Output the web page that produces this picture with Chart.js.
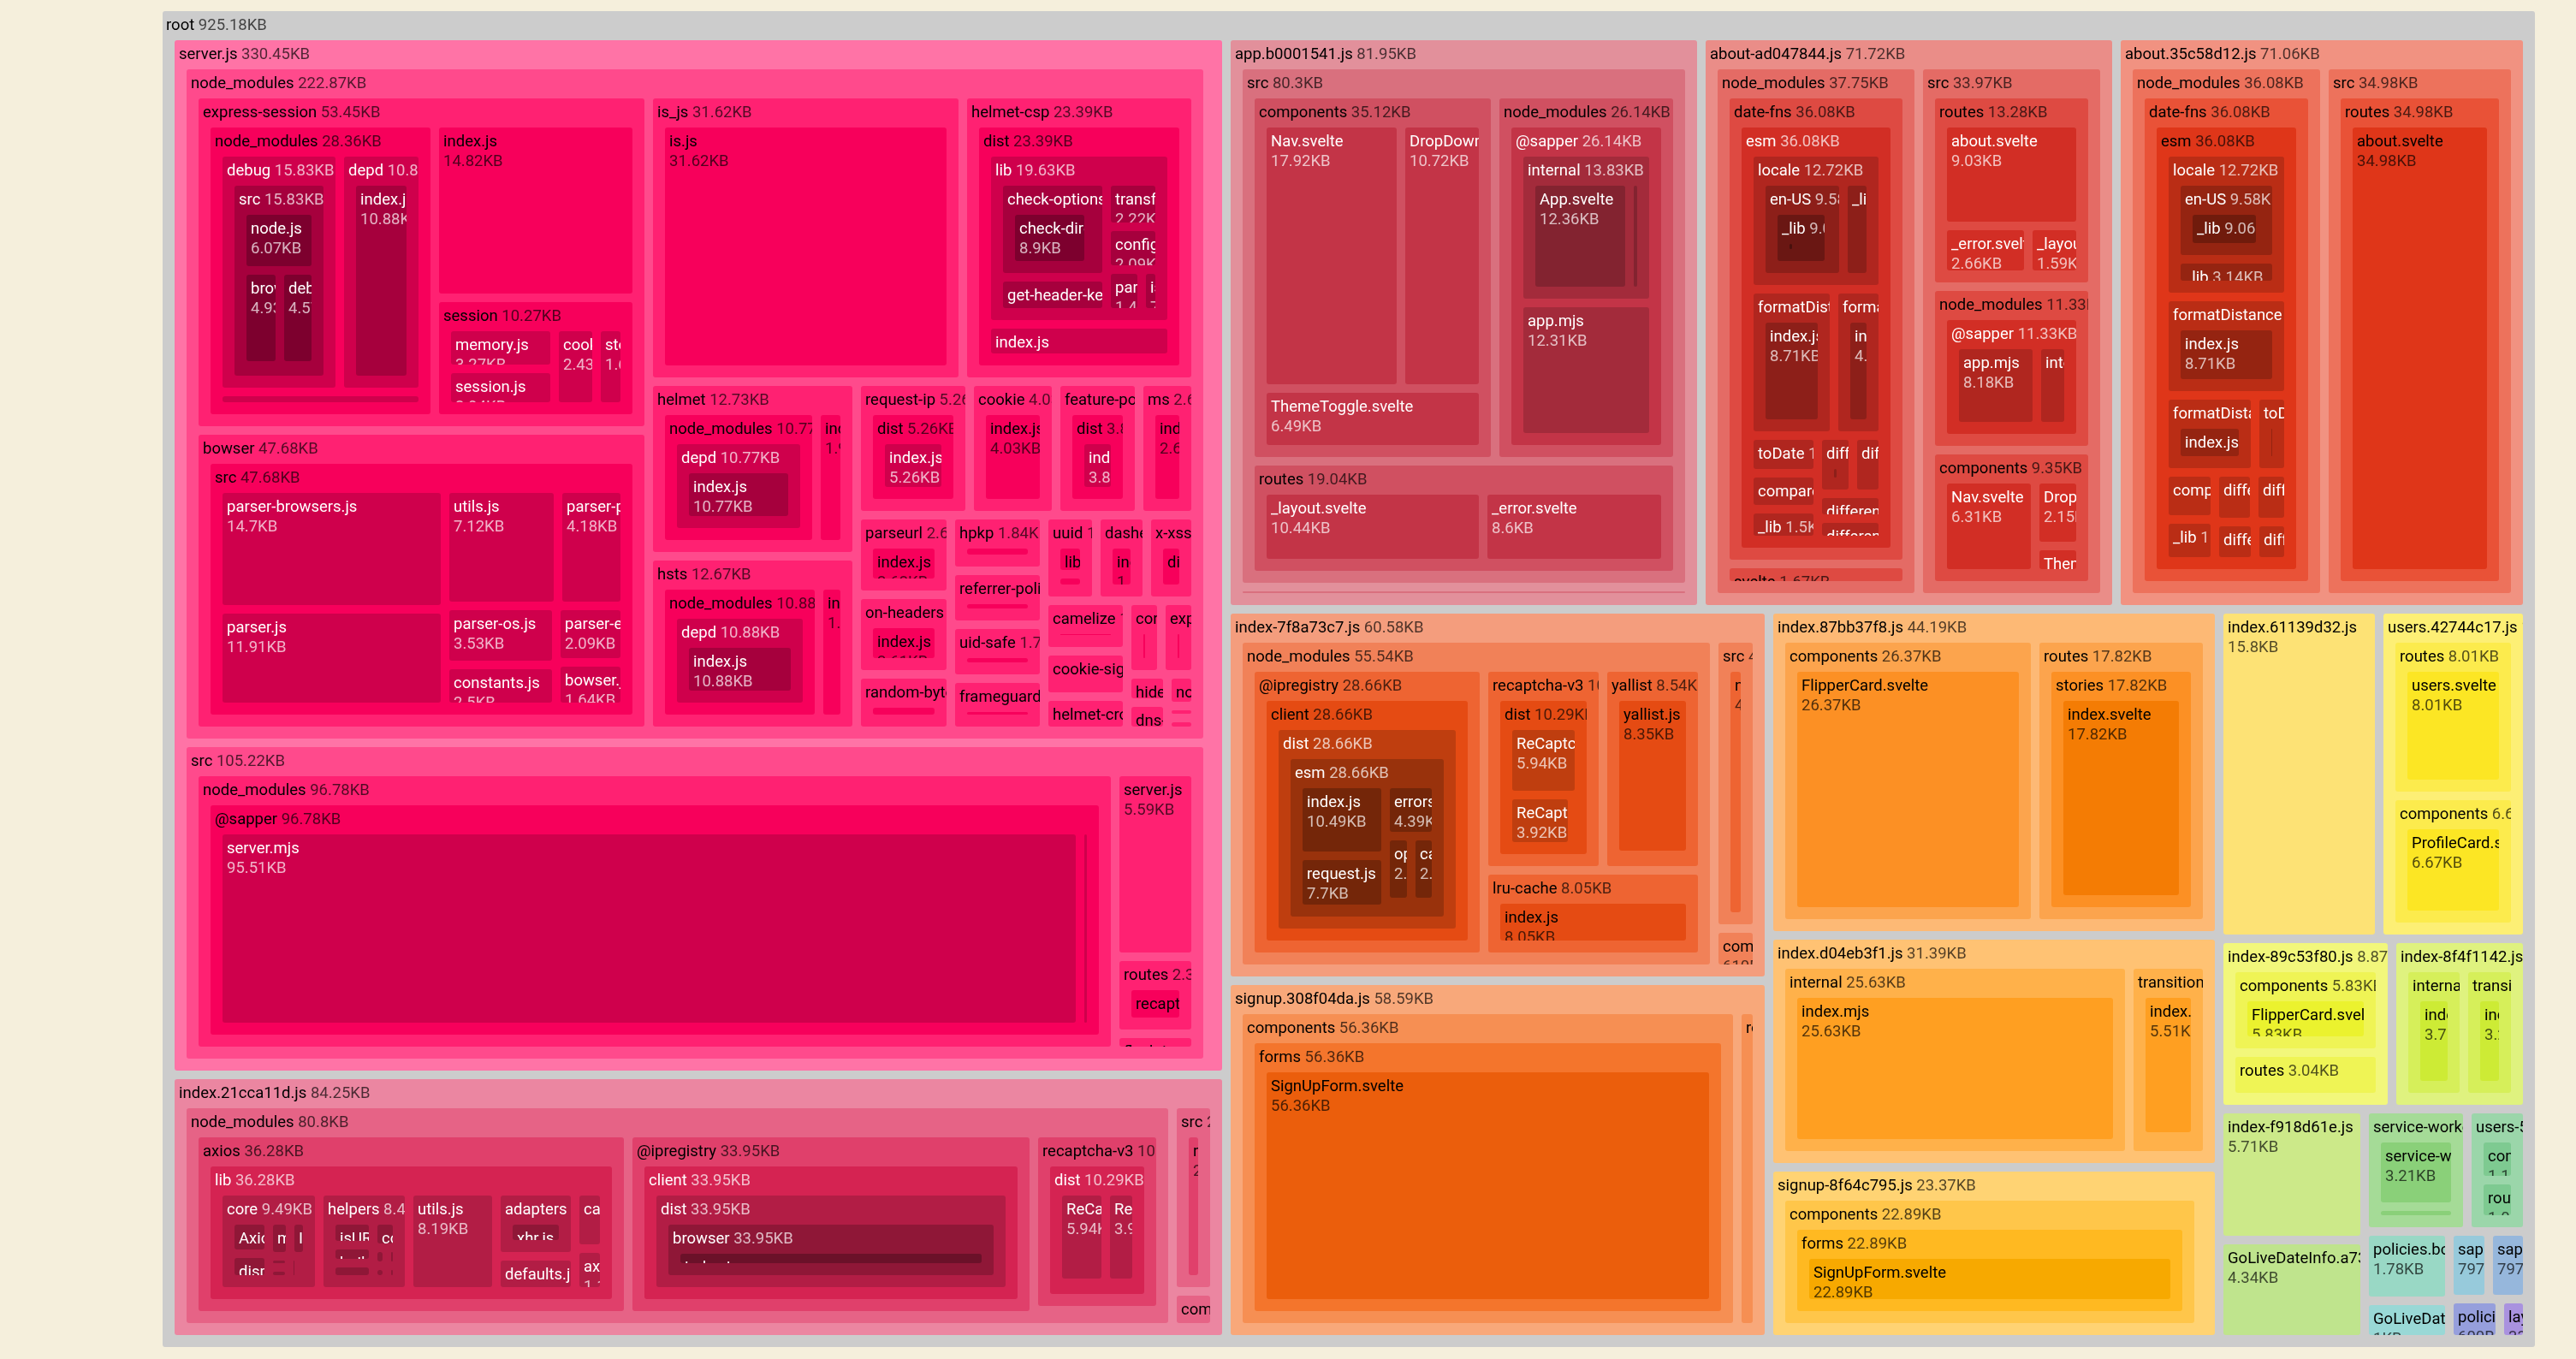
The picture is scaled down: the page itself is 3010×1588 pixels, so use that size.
<!DOCTYPE html>
<html>
<head>
<meta charset="utf-8">
<title>Bundle treemap</title>
<script src="https://cdn.jsdelivr.net/npm/chart.js@4.4.1/dist/chart.umd.min.js"></script>
<style>
  html, body { margin: 0; padding: 0; background: #f5efdc; }
  #wrap { position: absolute; left: 190px; top: 13px; width: 2772px; height: 1561px; }
</style>
</head>
<body>
<div id="wrap"><canvas id="treemap"></canvas></div>
<script>
// module sizes in KB, one list per bundle (paths are relative to the bundle)
const serverModules = [
  ['express-session/node_modules/debug/src/node.js', 6.07],
  ['express-session/node_modules/debug/src/browser.js', 4.93],
  ['express-session/node_modules/debug/src/debug.js', 4.57],
  ['express-session/node_modules/debug/src/index.js', 0.26],
  ['express-session/node_modules/depd/index.js', 10.88],
  ['express-session/node_modules/ms/index.js', 1.65],
  ['express-session/index.js', 14.82],
  ['express-session/session/memory.js', 3.27],
  ['express-session/session/session.js', 2.94],
  ['express-session/session/cookie.js', 2.43],
  ['express-session/session/store.js', 1.63],
  ['bowser/src/parser-browsers.js', 14.7],
  ['bowser/src/parser.js', 11.912],
  ['bowser/src/utils.js', 7.124],
  ['bowser/src/parser-platforms.js', 4.18],
  ['bowser/src/parser-os.js', 3.532],
  ['bowser/src/constants.js', 2.504],
  ['bowser/src/parser-engines.js', 2.09],
  ['bowser/src/bowser.js', 1.64],
  ['is_js/is.js', 31.62],
  ['helmet-csp/dist/lib/check-options/check-directive', 8.9],
  ['helmet-csp/dist/lib/check-options/index.js', 0.7],
  ['helmet-csp/dist/lib/get-header-keys-and-values.js', 3.6],
  ['helmet-csp/dist/lib/transform-directives-names.js', 2.22],
  ['helmet-csp/dist/lib/config.js', 2.09],
  ['helmet-csp/dist/lib/parse-directive.js', 1.4],
  ['helmet-csp/dist/lib/is-function.js', 0.72],
  ['helmet-csp/dist/index.js', 3.76],
  ['helmet/node_modules/depd/index.js', 10.77],
  ['helmet/index.js', 1.96],
  ['hsts/node_modules/depd/index.js', 10.88],
  ['hsts/index.js', 1.79],
  ['request-ip/dist/index.js', 5.26],
  ['cookie/index.js', 4.03],
  ['feature-policy/dist/index.js', 3.84],
  ['ms/index.js', 2.63],
  ['parseurl/index.js', 2.62],
  ['on-headers/index.js', 2.61],
  ['random-bytes/index.js', 1.85],
  ['hpkp/dist/index.js', 1.84],
  ['referrer-policy/dist/index.js', 1.77],
  ['uid-safe/index.js', 1.76],
  ['frameguard/dist/index.js', 1.7],
  ['uuid/lib', 1.06],
  ['uuid/v4.js', 0.5],
  ['dasherize/index.js', 1.52],
  ['x-xss-protection/dist/index.js', 1.47],
  ['camelize/index.js', 1.46],
  ['cookie-signature/index.js', 1.32],
  ['helmet-crossdomain/dist/index.js', 0.99],
  ['cors/index.js', 0.88],
  ['expect-ct/dist/index.js', 0.87],
  ['hide-powered-by/dist/index.js', 0.4],
  ['dns-prefetch-control/dist/index.js', 0.4],
  ['nocache/dist/index.js', 0.31],
  ['dont-sniff-mimetype/dist/index.js', 0.12],
  ['ienoopen/dist/index.js', 0.12]
];
const serverSrc = [
  ['node_modules/@sapper/server.mjs', 95.51],
  ['node_modules/@sapper/manifest-server.mjs', 1.27],
  ['server.js', 5.59],
  ['routes/recaptcha.js', 2.35],
  ['flash.js', 0.5]
];
const index21 = [
  ['node_modules/axios/lib/core/Axios.js', 2.7],
  ['node_modules/axios/lib/core/dispatchRequest.js', 2.0],
  ['node_modules/axios/lib/core/mergeConfig.js', 1.6],
  ['node_modules/axios/lib/core/InterceptorManager.js', 1.3],
  ['node_modules/axios/lib/core/buildFullPath.js', 0.5],
  ['node_modules/axios/lib/core/createError.js', 0.5],
  ['node_modules/axios/lib/core/enhanceError.js', 0.49],
  ['node_modules/axios/lib/core/settle.js', 0.4],
  ['node_modules/axios/lib/helpers/isURLSameOrigin.js', 2.3],
  ['node_modules/axios/lib/helpers/buildURL.js', 1.6],
  ['node_modules/axios/lib/helpers/parseHeaders.js', 1.5],
  ['node_modules/axios/lib/helpers/cookies.js', 1.4],
  ['node_modules/axios/lib/helpers/spread.js', 0.53],
  ['node_modules/axios/lib/helpers/combineURLs.js', 0.4],
  ['node_modules/axios/lib/helpers/isAbsoluteURL.js', 0.4],
  ['node_modules/axios/lib/helpers/bind.js', 0.3],
  ['node_modules/axios/lib/utils.js', 8.19],
  ['node_modules/axios/lib/adapters/xhr.js', 4.85],
  ['node_modules/axios/lib/defaults.js', 2.61],
  ['node_modules/axios/lib/cancel/CancelToken.js', 1.56],
  ['node_modules/axios/lib/axios.js', 1.15],
  ['node_modules/@ipregistry/client/dist/browser/index.js', 33.95],
  ['node_modules/recaptcha-v3/dist/ReCaptchaLoader.js', 5.94],
  ['node_modules/recaptcha-v3/dist/ReCaptchaInstance.js', 3.92],
  ['node_modules/recaptcha-v3/dist/index.js', 0.43],
  ['node_modules/tslib/tslib.es6.js', 0.28],
  ['src/recaptcha.js', 2.9],
  ['commonjsHelpers.js', 0.55]
];
const appB = [
  ['src/components/Nav.svelte', 17.918],
  ['src/components/DropDown.svelte', 10.716],
  ['src/components/ThemeToggle.svelte', 6.486],
  ['src/node_modules/@sapper/internal/App.svelte', 12.36],
  ['src/node_modules/@sapper/internal/layout.svelte', 1.47],
  ['src/node_modules/@sapper/app.mjs', 12.31],
  ['src/routes/_layout.svelte', 10.44],
  ['src/routes/_error.svelte', 8.6],
  ['manifest-client.mjs', 1.65]
];
const dateFns = [
  ['locale/en-US/_lib/match', 3.4],
  ['locale/en-US/_lib/localize', 2.9],
  ['locale/en-US/_lib/formatDistance', 1.5],
  ['locale/en-US/_lib/formatLong', 0.78],
  ['locale/en-US/_lib/formatRelative', 0.48],
  ['locale/en-US/index.js', 0.52],
  ['locale/_lib/buildMatchFn', 1.2],
  ['locale/_lib/buildLocalizeFn', 1.0],
  ['locale/_lib/buildMatchPatternFn', 0.5],
  ['locale/_lib/buildFormatLongFn', 0.44],
  ['formatDistance/index.js', 8.71],
  ['formatDistanceStrict/index.js', 4.95],
  ['toDate/index.js', 1.8],
  ['compareAsc/index.js', 1.7],
  ['_lib/requiredArgs', 0.6],
  ['_lib/toInteger', 0.45],
  ['_lib/getTimezoneOffsetInMilliseconds', 0.45],
  ['differenceInMonths/index.js', 1.4],
  ['differenceInSeconds/index.js', 1.2],
  ['differenceInMilliseconds/index.js', 1.15],
  ['differenceInCalendarMonths/index.js', 0.95]
];
const aboutAdSrc = [
  ['routes/about.svelte', 9.034],
  ['routes/_error.svelte', 2.66],
  ['routes/_layout.svelte', 1.59],
  ['node_modules/@sapper/app.mjs', 8.18],
  ['node_modules/@sapper/internal/App.svelte', 2.4],
  ['node_modules/@sapper/internal/layout.svelte', 0.75],
  ['components/Nav.svelte', 6.312],
  ['components/DropDown.svelte', 2.151],
  ['components/ThemeToggle.svelte', 0.89]
];
const index7f8 = [
  ['node_modules/@ipregistry/client/dist/esm/index.js', 10.49],
  ['node_modules/@ipregistry/client/dist/esm/request.js', 7.7],
  ['node_modules/@ipregistry/client/dist/esm/errors.js', 4.39],
  ['node_modules/@ipregistry/client/dist/esm/options.js', 2.82],
  ['node_modules/@ipregistry/client/dist/esm/cache.js', 2.72],
  ['node_modules/@ipregistry/client/dist/esm/util.js', 0.54],
  ['node_modules/recaptcha-v3/dist/ReCaptchaLoader.js', 5.94],
  ['node_modules/recaptcha-v3/dist/ReCaptchaInstance.js', 3.92],
  ['node_modules/recaptcha-v3/dist/index.js', 0.43],
  ['node_modules/yallist/yallist.js', 8.35],
  ['node_modules/yallist/iterator.js', 0.19],
  ['node_modules/lru-cache/index.js', 8.05],
  ['src/navigate.js', 4.43],
  ['commonjsHelpers.js', 0.61]
];
const signup308 = [['components/forms/SignUpForm.svelte', 56.36], ['routes/signup.svelte', 2.23]];
const index87 = [['components/FlipperCard.svelte', 26.37], ['routes/stories/index.svelte', 17.82]];
const indexD04 = [['internal/index.mjs', 25.63], ['transition/index.mjs', 5.51], ['transition/easing.mjs', 0.25]];
const signup8f = [['components/forms/SignUpForm.svelte', 22.89], ['routes/signup.svelte', 0.48]];
const users427 = [['routes/users.svelte', 8.01], ['components/ProfileCard.svelte', 6.67]];
const index89c = [['components/FlipperCard.svelte', 5.83], ['routes/index.svelte', 3.04]];
const index8f4 = [['internal/index.mjs', 3.71], ['transition/index.mjs', 3.22]];
const serviceWorker = [['service-worker.js', 3.21], ['node_modules', 0.59]];
const usersDash = [['components', 1.15], ['routes', 1.05]];

const bundleNames = [
  'server.js', 'index.21cca11d.js', 'app.b0001541.js', 'about-ad047844.js', 'about.35c58d12.js',
  'index-7f8a73c7.js', 'signup.308f04da.js', 'index.87bb37f8.js', 'index.d04eb3f1.js', 'signup-8f64c795.js',
  'index.61139d32.js', 'users.42744c17.js', 'index-89c53f80.js', 'index-8f4f1142.js', 'index-f918d61e.js',
  'GoLiveDateInfo.a73c5e21.js', 'service-worker.js', 'users-5b2e7d10.js', 'policies.bc4d8e1f.js',
  'GoLiveDateInfo-2f8e1d9c.js', 'sapper-dev-client.89e34bae.js', 'sapper-dev-client-1a6b2d0b.js',
  'policies-5e7a9c3b.js', 'layout.7d1e2f4a.js'
];
const pre = (p, list) => list.map(([k, v]) => [p + k, v]);
const bundleModules = [
  [...pre('node_modules/', serverModules), ...pre('src/', serverSrc), ['commonjsHelpers.js', 2.36]],
  index21,
  appB,
  [...pre('node_modules/date-fns/esm/', dateFns), ['node_modules/svelte/internal/index.mjs', 1.67], ...pre('src/', aboutAdSrc)],
  [...pre('node_modules/date-fns/esm/', dateFns), ['src/routes/about.svelte', 34.98]],
  index7f8, signup308, index87, indexD04, signup8f,
  15.8, users427, index89c, index8f4, 5.71,
  4.34, serviceWorker, usersDash, 1.78,
  1.0, 0.797, 0.797,
  0.6, 0.33
];

// colour per bundle (hue, saturation) in size order; lightness drops with depth
const bundleHues = [
  [338, 100], [344, 72], [352, 58], [3, 70], [9, 80], [16, 85], [22, 90], [30, 97],
  [34, 100], [41, 100], [48, 97], [54, 97], [62, 88], [70, 82], [78, 68], [86, 62],
  [108, 48], [135, 42], [162, 45], [178, 45], [195, 48], [212, 50], [232, 50], [258, 55]
];

const W = 2772, H = 1561;
const PAD_OUT = 14, PAD_IN = 10, PAD_TOP = 34;
const PHI = (1 + Math.sqrt(5)) / 2;
const FONT = '18.5px Roboto';

function insert(root, path, kb) {
  const parts = path.split('/');
  let node = root;
  parts.forEach((p, i) => {
    let child = node.children.find(c => c.name === p);
    if (!child) { child = { name: p, children: [] }; node.children.push(child); }
    if (i === parts.length - 1) child.size = kb;
    node = child;
  });
}

const root = { name: 'root', children: [] };
bundleNames.forEach((name, i) => {
  const mods = bundleModules[i];
  if (typeof mods === 'number') insert(root, name, mods);
  else mods.forEach(([p, kb]) => insert(root, name + '/' + p, kb));
});

function sum(node, depth) {
  node.depth = depth;
  if (!node.children.length) { node.value = node.size; return node.value; }
  node.value = node.children.reduce((s, c) => s + sum(c, depth + 1), 0);
  node.children.sort((a, b) => b.value - a.value);
  return node.value;
}
sum(root, 0);

function fmt(kb) {
  if (kb < 1) return Math.round(kb * 1000) + 'B';
  return parseFloat(kb.toFixed(2)) + 'KB';
}

function hslToRgb(h, s, l) {
  h = ((h % 360) + 360) % 360; s /= 100; l /= 100;
  const k = n => (n + h / 30) % 12;
  const a = s * Math.min(l, 1 - l);
  const f = n => l - a * Math.max(-1, Math.min(k(n) - 3, 9 - k(n), 1));
  return [f(0), f(8), f(4)].map(v => Math.round(v * 255));
}
function luminance(rgb) {
  const c = rgb.map(v => { v /= 255; return v <= 0.03928 ? v / 12.92 : Math.pow((v + 0.055) / 1.055, 2.4); });
  return 0.2126 * c[0] + 0.7152 * c[1] + 0.0722 * c[2];
}
function paint(node, hue) {
  const rgb = hslToRgb(hue[0], hue[1], Math.max(8, 80.5 - 8 * node.depth));
  node.fill = 'rgb(' + rgb.join(',') + ')';
  node.lum = luminance(rgb);
  node.children.forEach(c => paint(c, hue));
}
root.fill = '#cccccc'; root.lum = 0.6;
root.children.forEach((c, i) => paint(c, bundleHues[i]));

// d3-style squarified treemap with padding
function dice(row, total, x0, y0, x1, y1) {
  const k = total ? (x1 - x0) / total : 0;
  row.forEach(n => { n.y0 = y0; n.y1 = y1; n.x0 = x0; n.x1 = x0 += n.value * k; });
}
function slice(row, total, x0, y0, x1, y1) {
  const k = total ? (y1 - y0) / total : 0;
  row.forEach(n => { n.x0 = x0; n.x1 = x1; n.y0 = y0; n.y1 = y0 += n.value * k; });
}
function squarify(parent, x0, y0, x1, y1) {
  const nodes = parent.children, n = nodes.length;
  let i0 = 0, i1 = 0, value = parent.value;
  while (i0 < n) {
    const dx = x1 - x0, dy = y1 - y0;
    let sumValue, nodeValue;
    do sumValue = nodes[i1++].value; while (!sumValue && i1 < n);
    let minValue = sumValue, maxValue = sumValue;
    const alpha = Math.max(dy / dx, dx / dy) / (value * PHI);
    let beta = sumValue * sumValue * alpha;
    let minRatio = Math.max(maxValue / beta, beta / minValue);
    for (; i1 < n; ++i1) {
      sumValue += nodeValue = nodes[i1].value;
      if (nodeValue < minValue) minValue = nodeValue;
      if (nodeValue > maxValue) maxValue = nodeValue;
      beta = sumValue * sumValue * alpha;
      const newRatio = Math.max(maxValue / beta, beta / minValue);
      if (newRatio > minRatio) { sumValue -= nodeValue; break; }
      minRatio = newRatio;
    }
    const row = nodes.slice(i0, i1);
    if (dx < dy) {
      const ny = value ? y0 + dy * sumValue / value : y1;
      dice(row, sumValue, x0, y0, x1, ny); y0 = ny;
    } else {
      const nx = value ? x0 + dx * sumValue / value : x1;
      slice(row, sumValue, x0, y0, nx, y1); x0 = nx;
    }
    value -= sumValue; i0 = i1;
  }
}
function position(node, p) {
  let x0 = node.x0 + p, y0 = node.y0 + p, x1 = node.x1 - p, y1 = node.y1 - p;
  if (x1 < x0) x0 = x1 = (x0 + x1) / 2;
  if (y1 < y0) y0 = y1 = (y0 + y1) / 2;
  node.x0 = x0; node.y0 = y0; node.x1 = x1; node.y1 = y1;
  if (node.children.length) {
    const q = PAD_IN / 2;
    x0 += PAD_OUT - q; y0 += PAD_TOP - q; x1 -= PAD_OUT - q; y1 -= PAD_OUT - q;
    if (x1 < x0) x0 = x1 = (x0 + x1) / 2;
    if (y1 < y0) y0 = y1 = (y0 + y1) / 2;
    squarify(node, x0, y0, x1, y1);
    node.children.forEach(c => position(c, q));
  }
}
root.x0 = 0; root.y0 = 0; root.x1 = W; root.y1 = H;
position(root, 0);

const allNodes = [];
(function walk(n) {
  ['x0', 'y0', 'x1', 'y1'].forEach(k => { n[k] = Math.round(n[k]); });
  allNodes.push(n);
  n.children.forEach(walk);
})(root);

const treemapPlugin = {
  id: 'treemapCells',
  afterDatasetsDraw(chart) {
    const ctx = chart.ctx, xs = chart.scales.x, ys = chart.scales.y;
    ctx.save();
    ctx.font = FONT;
    ctx.textBaseline = 'alphabetic';
    allNodes.forEach(n => {
      const x = xs.getPixelForValue(n.x0), y = ys.getPixelForValue(n.y0);
      const w = xs.getPixelForValue(n.x1) - x, h = ys.getPixelForValue(n.y1) - y;
      if (w <= 0 || h <= 0) return;
      ctx.fillStyle = n.fill;
      ctx.beginPath();
      ctx.roundRect(x, y, w, h, Math.min(3, w / 2, h / 2));
      ctx.fill();
      if (w < 4 || h < 4) return;
      const dark = n.lum > 0.175;
      const c1 = dark ? '#000' : '#fff';
      const c2 = dark ? 'rgba(0,0,0,0.68)' : 'rgba(255,255,255,0.7)';
      ctx.save();
      ctx.beginPath();
      ctx.rect(x, y, w, h);
      ctx.clip();
      const tx = x + (n.depth === 0 ? 4 : 5);
      ctx.fillStyle = c1;
      ctx.fillText(n.name, tx, y + 22);
      if (n.children.length) {
        const nw = ctx.measureText(n.name + ' ').width;
        ctx.fillStyle = c2;
        ctx.fillText(fmt(n.value), tx + nw, y + 22);
      } else {
        ctx.fillStyle = c2;
        ctx.fillText(fmt(n.value), tx, y + 45);
      }
      ctx.restore();
    });
    ctx.restore();
  }
};

new Chart(document.getElementById('treemap'), {
  type: 'scatter',
  data: { datasets: [{ data: [] }] },
  options: {
    responsive: true,
    maintainAspectRatio: false,
    animation: false,
    events: [],
    layout: { padding: 0 },
    plugins: { legend: { display: false }, tooltip: { enabled: false } },
    scales: {
      x: { type: 'linear', min: 0, max: W, display: false },
      y: { type: 'linear', min: 0, max: H, reverse: true, display: false }
    }
  },
  plugins: [treemapPlugin]
});
</script>
</body>
</html>
